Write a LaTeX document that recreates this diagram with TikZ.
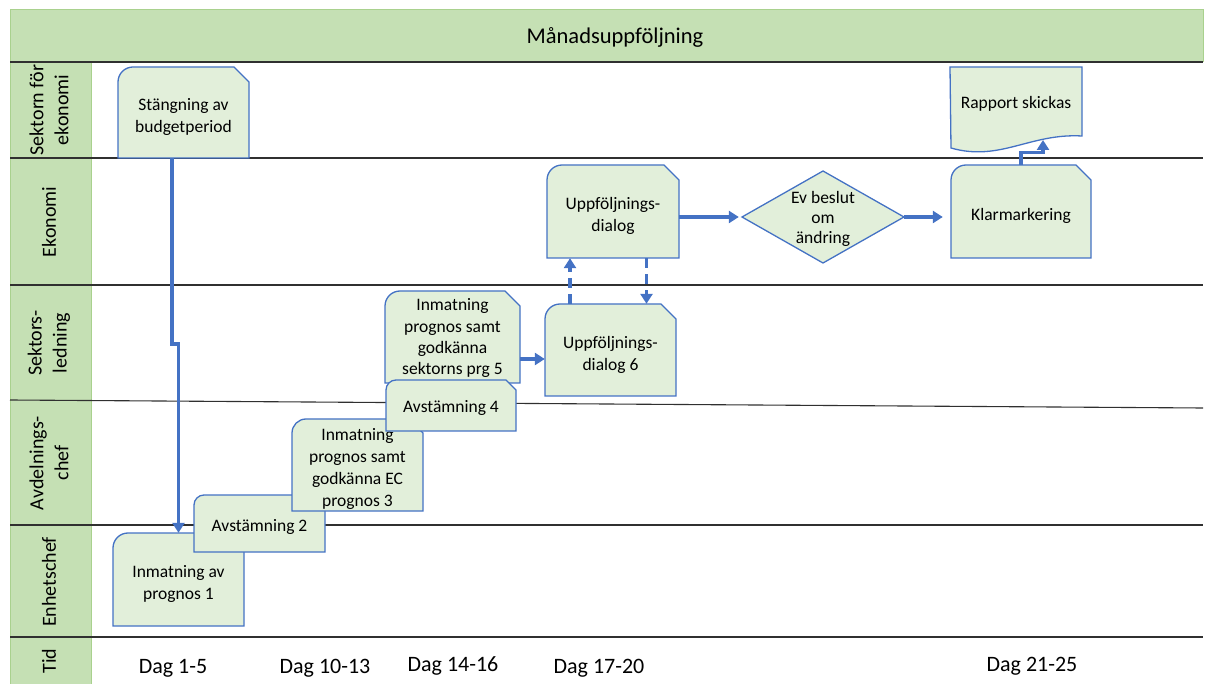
\documentclass[tikz,border=0pt]{standalone}
\usepackage{fontspec}
\setmainfont{Carlito}
\usetikzlibrary{arrows.meta,calc}
\definecolor{hdr}{HTML}{C5E0B4}
\definecolor{hdrline}{HTML}{A9D18E}
\definecolor{boxfill}{HTML}{E2EFDA}
\definecolor{boxline}{HTML}{4472C4}
\definecolor{lanegray}{HTML}{303030}
\tikzset{
  shapeline/.style={fill=boxfill, draw=boxline, line width=1.3pt, line join=miter},
  boxtext/.style={draw=none, inner sep=0pt, align=center, font=\fontsize{17.5}{22}\selectfont},
  arr/.style={draw=boxline, line width=3.4pt, -{Triangle[width=12pt,length=10pt]}},
  dasharr/.style={arr, dash pattern=on 10pt off 6pt},
  laneline/.style={draw=lanegray, line width=1.1pt},
  lanelabel/.style={rotate=90, align=center, inner sep=0pt, font=\fontsize{20}{25}\selectfont},
  daglabel/.style={inner sep=0pt, anchor=base, font=\fontsize{22}{26}\selectfont},
  titletext/.style={inner sep=0pt, font=\fontsize{22.5}{27}\selectfont},
}
\newcommand\lowered[2]{\raisebox{-#1pt}[\height][\depth]{\begin{tabular}{@{}c@{}}#2\end{tabular}}}
% name, x1, y1, x2, y2, corner, text lowering, text
\newcommand\snipbox[8]{%
  \filldraw[shapeline] (#2,#5) -- (#2,{#3+#6}) arc[start angle=180,end angle=90,radius=#6pt] -- ({#4-#6},#3) -- (#4,{#3+#6}) -- (#4,#5) -- cycle;
  \node[boxtext, minimum width={#4pt-#2pt}, minimum height={#5pt-#3pt}] (#1) at ({(#2+#4)/2},{(#3+#5)/2}) {\lowered{#7}{#8}};
}
\begin{document}
\begin{tikzpicture}[x=1pt,y=-1pt]
\useasboundingbox (0,0) rectangle (1205,684);
% header and lane label column
\filldraw[draw=hdrline, fill=hdr, line width=1pt] (10,10) rectangle (1203,62);
\node[titletext] (title) at (615,37) {Månadsuppföljning};
\filldraw[draw=hdrline, fill=hdr, line width=1pt] (10,62) rectangle (91,684);
% lane lines
\draw[laneline, line width=1.9pt] (10,62) -- (1203,62);
\draw[laneline] (10,158) -- (1203,158);
\draw[laneline] (10,285) -- (1203,285);
\draw[laneline] (10,400) -- (1203,408);
\draw[laneline] (10,525) -- (1203,525);
\draw[laneline] (10,637) -- (1203,637);
% lane labels
\node[lanelabel] (l1) at (49,110) {Sektorn för\\ekonomi};
\node[lanelabel] (l2) at (49,222) {Ekonomi};
\node[lanelabel] (l3) at (49,343) {Sektors-\\ledning};
\node[lanelabel] (l4) at (49,463) {Avdelnings-\\chef};
\node[lanelabel] (l5) at (49,582) {Enhetschef};
\node[lanelabel] (l6) at (49,661) {Tid};
% day labels
\node[daglabel] (d15) at (173,673) {Dag 1-5};
\node[daglabel] (d1013) at (325,673) {Dag 10-13};
\node[daglabel] (d1416) at (453,671) {Dag 14-16};
\node[daglabel] (d1720) at (599,673) {Dag 17-20};
\node[daglabel] (d2125) at (1032,671) {Dag 21-25};
% process boxes
\snipbox{stang}{118}{67}{249}{158}{15}{5}{Stängning av\\budgetperiod}
\snipbox{inm1}{113}{533}{244}{626}{15}{5}{Inmatning av\\prognos 1}
\snipbox{avst2}{194}{495}{325}{552}{10}{4}{Avstämning 2}
\snipbox{inm3}{292}{419}{423}{511}{14}{4}{Inmatning\\prognos samt\\godkänna EC\\prognos 3}
{\tikzset{boxtext/.append style={font=\fontsize{17.5}{21.3}\selectfont}}
\snipbox{inm5}{385}{291}{520}{383}{15}{1.5}{Inmatning\\prognos samt\\godkänna\\sektorns prg 5}}
\snipbox{avst4}{386}{380}{516}{431}{10}{3}{Avstämning 4}
\snipbox{uppf6}{545}{304}{676}{396}{15}{5}{Uppföljnings-\\dialog 6}
\snipbox{uppf}{547}{165}{679}{258}{15}{5}{Uppföljnings-\\dialog}
\snipbox{klar}{951}{165}{1091}{258}{15}{5}{Klarmarkering}
% decision
\filldraw[shapeline] (742,217) -- (823,171) -- (904,217) -- (823,263) -- cycle;
\node[boxtext, font=\fontsize{17.5}{20}\selectfont, minimum width=162pt, minimum height=92pt] (dia) at (823,217) {\lowered{2.5}{Ev beslut\\om\\ändring}};
% document
\filldraw[shapeline] (950,67) -- (1082,67) -- (1082,136) .. controls (1030,133) and (1000,162) .. (951,148) -- cycle;
\node[boxtext, minimum width=132pt, minimum height=70pt] (rap) at (1016,102) {\lowered{2}{Rapport skickas}};
\coordinate (rapin) at (1043,140);
% connectors
\draw[arr] ([xshift=-11.5pt]stang.south) -- ++(0,186) -| (inm1.north);
\draw[arr] ([yshift=-22pt]inm5.east) -- ([yshift=-9pt]uppf6.west);
\coordinate (u1) at ([xshift=-40.5pt]uppf6.north);
\draw[dasharr] (u1) -- (u1 |- uppf.south);
\coordinate (d1) at ([xshift=33.5pt]uppf.south);
\draw[dasharr] (d1) -- (d1 |- uppf6.north);
\draw[arr, shorten >=3pt] (uppf.east |- dia.west) -- (dia.west);
\draw[arr, shorten >=8pt] (dia.east) -- (klar.west |- dia.east);
\draw[arr] (klar.north) -- ++(0,-12) -| (rapin);
\end{tikzpicture}
\end{document}
